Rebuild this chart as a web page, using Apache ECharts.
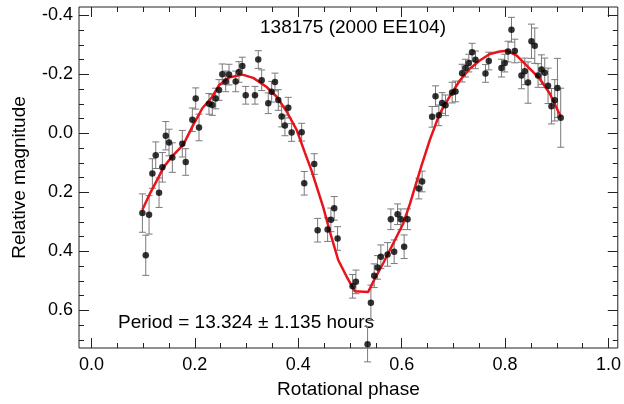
<!DOCTYPE html>
<html>
<head>
<meta charset="utf-8">
<script src="https://cdn.jsdelivr.net/npm/echarts@6/dist/echarts.min.js"></script>
<style>
html,body{margin:0;padding:0;background:#fff;}
#chart{width:624px;height:404px;}
</style>
</head>
<body>
<div id="chart"></div>
<script>
// Observed data points: rotational phase, relative magnitude, 1-sigma error
const phase = [0.0986,0.1051,0.1115,0.1179,0.1244,0.1308,0.1372,0.1438,0.1501,0.1565,
  0.1758,0.1824,0.1952,0.2017,0.2081,0.2274,0.2338,0.2404,0.2468,0.2531,
  0.2597,0.2661,0.2790,0.2854,0.2918,0.2984,0.3163,0.3227,0.3293,
  0.3420,0.3486,0.3550,0.3614,0.3679,0.3743,0.3807,0.3872,0.4066,0.4116,
  0.4309,0.4375,0.4568,0.4632,0.4696,0.4761,0.5051,0.5115,0.5341,0.5405,
  0.5469,0.5534,0.5598,0.5728,0.5791,0.5855,0.5921,0.5985,0.6048,0.6114,
  0.6332,0.6396,0.6589,0.6655,0.6719,0.6783,0.6848,0.6976,0.7041,0.7169,
  0.7235,0.7299,0.7362,0.7428,0.7621,0.7685,0.7930,0.7994,0.8058,0.8124,
  0.8188,0.8317,0.8381,0.8444,0.8510,0.8574,0.8638,0.8703,0.8767,0.8831,
  0.8897,0.8961,0.9013,0.9076];
const mag = [0.270,0.413,0.276,0.136,0.074,0.201,0.115,0.008,0.031,0.082,
  0.035,0.097,-0.046,-0.118,-0.020,-0.100,-0.096,-0.118,-0.147,-0.200,
  -0.176,-0.199,-0.176,-0.208,-0.228,-0.129,-0.129,-0.250,-0.180,
  -0.102,-0.141,-0.174,-0.113,-0.057,-0.027,-0.087,-0.003,-0.004,0.169,
  0.104,0.328,0.326,0.293,0.254,0.356,0.518,0.503,0.714,0.574,
  0.482,0.454,0.418,0.410,0.291,0.401,0.274,0.291,0.384,0.291,
  0.187,0.163,-0.056,-0.126,-0.061,-0.103,-0.095,-0.138,-0.142,-0.204,
  -0.221,-0.238,-0.275,-0.249,-0.203,-0.245,-0.221,-0.238,-0.277,-0.351,
  -0.279,-0.196,-0.210,-0.172,-0.312,-0.297,-0.196,-0.216,-0.205,-0.161,
  -0.092,-0.112,-0.154,-0.053];
const magErr = [0.065,0.068,0.065,0.050,0.045,0.050,0.050,0.048,0.045,0.050,
  0.045,0.045,0.040,0.036,0.045,0.035,0.035,0.035,0.035,0.035,
  0.035,0.035,0.035,0.035,0.030,0.030,0.030,0.030,0.035,
  0.035,0.035,0.030,0.035,0.035,0.035,0.035,0.030,0.030,0.040,
  0.035,0.040,0.040,0.040,0.040,0.040,0.040,0.040,0.060,0.060,
  0.040,0.040,0.040,0.040,0.035,0.040,0.035,0.035,0.040,0.035,
  0.035,0.035,0.035,0.035,0.035,0.035,0.035,0.035,0.035,0.030,
  0.030,0.030,0.030,0.030,0.030,0.030,0.030,0.030,0.035,0.042,
  0.040,0.045,0.045,0.070,0.058,0.060,0.040,0.050,0.050,0.060,
  0.060,0.070,0.100,0.100];
// Fitted lightcurve (red line)
const fitPhase = [0.0986,0.1134,0.1295,0.1391,0.1565,0.1778,0.1952,0.2145,0.2338,0.2468,
  0.2661,0.2918,0.3130,0.3389,0.3583,0.3776,0.3969,0.4130,0.4259,0.4483,
  0.4613,0.4773,0.4935,0.5096,0.5353,0.5469,0.5643,0.5836,0.6029,0.6158,
  0.6274,0.6390,0.6545,0.6738,0.6931,0.7124,0.7318,0.7511,0.7704,0.7897,
  0.8033,0.8226,0.8477,0.8670,0.8864,0.9076];
const fitMag = [0.259,0.203,0.150,0.116,0.077,0.038,-0.023,-0.085,-0.124,-0.163,
  -0.189,-0.199,-0.188,-0.157,-0.124,-0.074,-0.012,0.066,0.127,0.250,
  0.334,0.429,0.485,0.535,0.537,0.496,0.440,0.373,0.306,0.240,
  0.173,0.106,0.022,-0.068,-0.125,-0.179,-0.219,-0.247,-0.269,-0.277,
  -0.280,-0.263,-0.219,-0.185,-0.135,-0.057];
// Tick values
const xMajor = [0.0,0.2,0.4,0.6,0.8,1.0];
const xMinor = [0.05,0.1,0.15,0.25,0.3,0.35,0.45,0.5,0.55,0.65,0.7,0.75,0.85,0.9,0.95];
const yMajor = [-0.4,-0.2,0.0,0.2,0.4,0.6];
const yMinor = [-0.35,-0.3,-0.25,-0.15,-0.1,-0.05,0.05,0.1,0.15,0.25,0.3,0.35,0.45,0.5,0.55,0.65,0.7];
const titleText = '138175 (2000 EE104)';
const periodText = 'Period = 13.324 \u00b1 1.135 hours';
const xName = 'Rotational phase';
const yName = 'Relative magnitude';

const FONT = '"Liberation Sans", Arial, Helvetica, sans-serif';
const AX = '#222';
const X_MIN = -0.024, X_MAX = 1.018, Y_MIN = -0.428, Y_MAX = 0.727;

function xAx(pos, ticks, len, labels, extra) {
  return Object.assign({
    type: 'value', position: pos, min: X_MIN, max: X_MAX,
    axisLine: {show: false, onZero: false},
    splitLine: {show: false},
    axisTick: {show: true, inside: true, length: len, customValues: ticks, lineStyle: {color: AX, width: 1}},
    axisLabel: {show: labels, customValues: ticks, formatter: v => v.toFixed(1), color: '#000', fontSize: 18, fontFamily: FONT, margin: 8}
  }, extra || {});
}
function yAx(pos, ticks, len, labels, extra) {
  return Object.assign({
    type: 'value', position: pos, min: Y_MIN, max: Y_MAX, inverse: true,
    axisLine: {show: false, onZero: false},
    splitLine: {show: false},
    axisTick: {show: true, inside: true, length: len, customValues: ticks, lineStyle: {color: AX, width: 1}},
    axisLabel: {show: labels, customValues: ticks, formatter: v => v.toFixed(1), color: '#000', fontSize: 18, fontFamily: FONT, margin: 6}
  }, extra || {});
}

const errData = phase.map((p, i) => [p, mag[i] - magErr[i], mag[i] + magErr[i]]);
const ptData = phase.map((p, i) => [p, mag[i]]);
const fitData = fitPhase.map((p, i) => [p, fitMag[i]]);

const chart = echarts.init(document.getElementById('chart'), null, {renderer: 'canvas'});
chart.setOption({
  animation: false,
  backgroundColor: '#fff',
  title: {
    text: titleText, left: 348, top: 13, textAlign: 'center',
    textStyle: {fontFamily: FONT, fontSize: 19, fontWeight: 'normal', color: '#000'}
  },
  grid: {left: 79, right: 6, top: 7, bottom: 52, show: true, borderColor: AX, borderWidth: 1, backgroundColor: 'transparent'},
  xAxis: [
    xAx('bottom', xMajor, 10, true, {name: xName, nameLocation: 'middle', nameGap: 32,
      nameTextStyle: {fontFamily: FONT, fontSize: 19, color: '#000'}}),
    xAx('bottom', xMinor, 5, false),
    xAx('top', xMajor, 10, false),
    xAx('top', xMinor, 5, false)
  ],
  yAxis: [
    yAx('left', yMajor, 10, true, {name: yName, nameLocation: 'middle', nameGap: 50,
      nameTextStyle: {fontFamily: FONT, fontSize: 19, color: '#000'}}),
    yAx('left', yMinor, 5, false),
    yAx('right', yMajor, 10, false),
    yAx('right', yMinor, 5, false)
  ],
  graphic: [{
    type: 'text', left: 118, top: 313,
    style: {text: periodText, font: '19px ' + FONT, fill: '#000'}
  }],
  series: [
    {
      type: 'custom', xAxisIndex: 0, yAxisIndex: 0, data: errData, z: 2,
      renderItem: function (params, api) {
        const x = api.value(0);
        const a = api.coord([x, api.value(1)]);
        const b = api.coord([x, api.value(2)]);
        const w = 3.5;
        const st = {stroke: '#7a7a7a', lineWidth: 1};
        return {type: 'group', children: [
          {type: 'line', shape: {x1: a[0], y1: a[1], x2: b[0], y2: b[1]}, style: st},
          {type: 'line', shape: {x1: a[0]-w, y1: a[1], x2: a[0]+w, y2: a[1]}, style: st},
          {type: 'line', shape: {x1: b[0]-w, y1: b[1], x2: b[0]+w, y2: b[1]}, style: st}
        ]};
      }
    },
    {
      type: 'line', xAxisIndex: 0, yAxisIndex: 0, data: fitData, z: 3,
      showSymbol: false, symbol: 'none', smooth: false,
      lineStyle: {color: '#e8141b', width: 2.5}
    },
    {
      type: 'scatter', xAxisIndex: 0, yAxisIndex: 0, data: ptData, z: 4,
      symbol: 'circle', symbolSize: 6.5,
      itemStyle: {color: '#000'}
    }
  ]
});
</script>
</body>
</html>
